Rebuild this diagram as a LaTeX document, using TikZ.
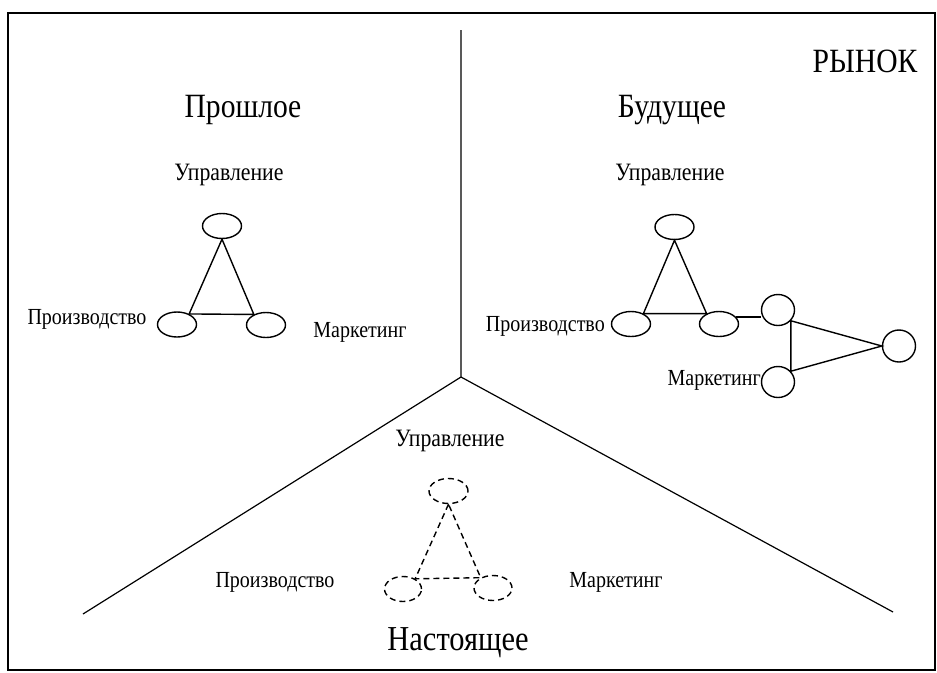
\documentclass[tikz,border=0pt]{standalone}
\usepackage{fontspec}
\setmainfont{Liberation Serif}[FakeStretch=0.87]
\usetikzlibrary{shapes.geometric}

\tikzset{
  unit/.style={ellipse, draw, line width=1.4pt, inner sep=0pt, minimum width=39pt, minimum height=25pt},
  ring/.style={ellipse, draw, line width=1.4pt, inner sep=0pt, minimum width=33pt, minimum height=31pt},
  link/.style={line width=1.4pt},
  faint/.style={dash pattern=on 6pt off 4pt},
  divider/.style={line width=1.2pt},
  title/.style={anchor=base, inner sep=0pt, font=\fontsize{34}{38}\selectfont},
  head/.style={anchor=base, inner sep=0pt, font=\fontsize{25}{29}\selectfont},
  dept/.style={anchor=base, inner sep=0pt, font=\fontsize{23}{27}\selectfont},
}

\begin{document}
\begin{tikzpicture}[x=1pt, y=-1pt]
  \useasboundingbox (0,0) rectangle (937,672);
  \draw[line width=1.6pt] (8,13) rectangle (935,670);

  % dividing lines of the market
  \coordinate (hub) at (461,377);
  \coordinate (topend) at (461,30);
  \coordinate (leftend) at (83,614);
  \coordinate (rightend) at (893,612);
  \draw[divider] (topend) -- (hub) -- (leftend);
  \draw[divider] (hub) -- (rightend);

  % headings
  \node[title] (market) at (865,72) {РЫНОК};
  \node[title] (past) at (243,117) {Прошлое};
  \node[title] (future) at (672,117) {Будущее};
  \node[title, font=\fontsize{35}{39}\selectfont] (present) at (458,650) {Настоящее};

  % past
  \node[head] (pmgmt) at (229,180) {Управление};
  \node[unit] (Pt) at (222,226) {};
  \node[unit] (Pl) at (177,324.5) {};
  \node[unit] (Pr) at (266,325) {};
  \node[dept] (pprod) at (87,324) {Производство};
  \node[dept] (pmark) at (360,337) {Маркетинг};
  \draw[link] (Pt.south) -- (Pl.41) -- (Pr.139) -- cycle;

  % future
  \node[head] (fmgmt) at (670,180) {Управление};
  \node[unit] (Ft) at (674.5,227) {};
  \node[unit] (Fl) at (631,324) {};
  \node[unit] (Fr) at (719,324) {};
  \node[dept, anchor=base east] (fprod) at (605,331) {Производство};
  \draw[link] (Ft.south) -- (Fl.40) -- (Fr.140) -- cycle;
  \node[ring] (C1) at (778,310) {};
  \node[ring] (C2) at (778,382) {};
  \node[ring, minimum height=32pt] (C3) at (899,346) {};
  \node[dept, anchor=base east] (fmark) at (761,385) {Маркетинг};
  \draw[link] (Fr.22) -- (C1.west |- Fr.22);
  \draw[link] (C1.-40) -- (C3.west) -- (C2.40) -- cycle;

  % present
  \node[head] (nmgmt) at (450,446) {Управление};
  \node[unit, faint] (Nt) at (448.5,491) {};
  \node[unit, faint, minimum width=37pt] (Nl) at (403,589) {};
  \node[unit, faint, minimum width=38pt] (Nr) at (493,588) {};
  \node[dept] (nprod) at (275,587) {Производство};
  \node[dept] (nmark) at (616,587) {Маркетинг};
  \draw[link, faint] (Nt.south) -- (Nl.40) -- (Nr.140) -- cycle;
\end{tikzpicture}
\end{document}
